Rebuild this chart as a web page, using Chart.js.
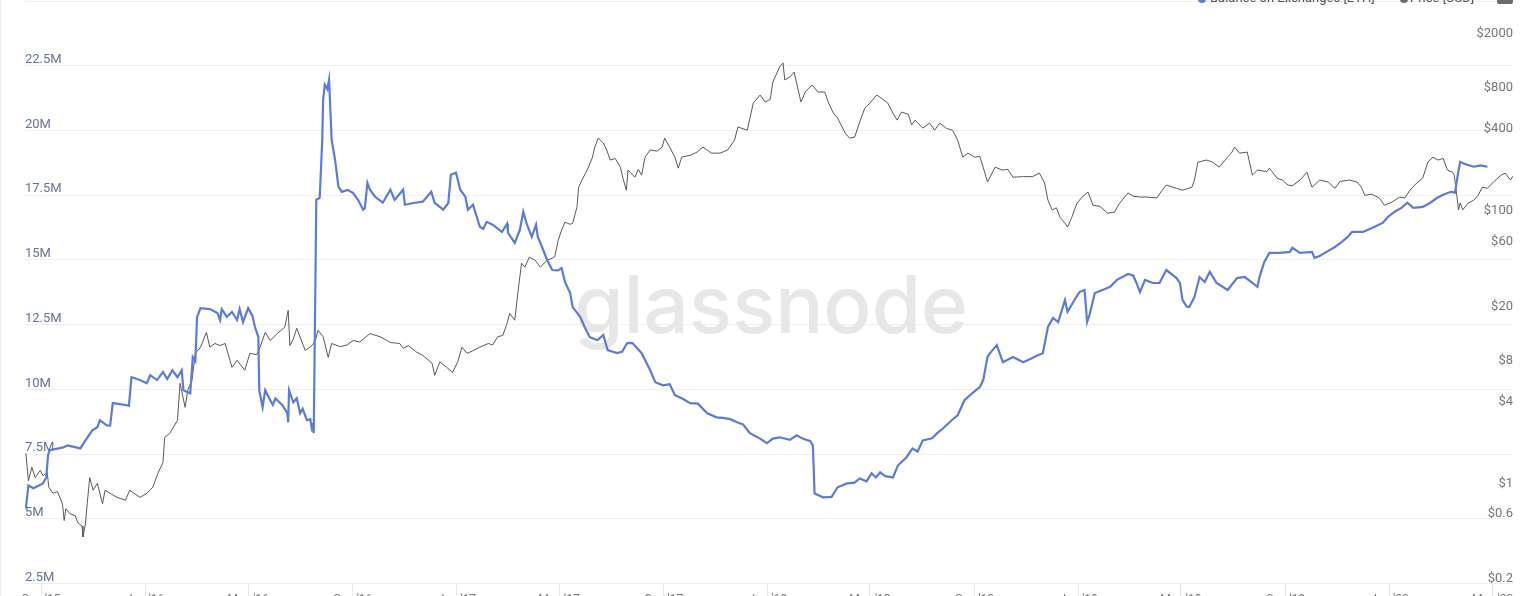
<!DOCTYPE html>
<html>
<head>
<meta charset="utf-8">
<script src="https://cdn.jsdelivr.net/npm/chart.js@4.4.0/dist/chart.umd.min.js"></script>
<style>
html, body { margin: 0; padding: 0; background: #fff; overflow: hidden; }
body { width: 1533px; height: 596px; position: relative; font-family: Roboto, "Open Sans", sans-serif; }
#wrap { position: absolute; left: 0; top: 0; width: 1533px; height: 603px; }
#edge { position: absolute; left: 0; top: 0; width: 1px; height: 596px; background: #ebebeb; }
.leg { position: absolute; top: -9px; font-size: 13px; line-height: 13px; color: #555; white-space: nowrap; }
.dot { position: absolute; top: -5px; width: 8px; height: 8px; border-radius: 50%; }
#menu { position: absolute; left: 1497px; top: -12px; width: 16px; height: 16px; border-radius: 2px; background: #6b6b6b; }
</style>
</head>
<body>
<div id="wrap"><canvas id="myChart" width="1533" height="603"></canvas></div>
<div id="edge"></div>
<div class="dot" style="left:1198px;background:#5b7cdb"></div>
<div class="leg" style="left:1210px">Balance on Exchanges [ETH]</div>
<div class="dot" style="left:1400px;background:#6b6b6b"></div>
<div class="leg" style="left:1410px">Price [USD]</div>
<div id="menu"></div>
<script>
// exchange balance, millions of ETH
let balanceDates = [
	"2015-08-14","2015-08-17","2015-08-23","2015-09-03","2015-09-07","2015-09-09","2015-09-11","2015-09-27","2015-10-02","2015-10-17",
	"2015-10-23","2015-10-31","2015-11-06","2015-11-09","2015-11-17","2015-11-21","2015-11-24","2015-12-11","2015-12-13","2015-12-16",
	"2015-12-26","2016-01-03","2016-01-07","2016-01-15","2016-01-22","2016-01-27","2016-02-02","2016-02-08","2016-02-13","2016-02-15",
	"2016-02-23","2016-02-26","2016-02-29","2016-03-02","2016-03-06","2016-03-17","2016-03-26","2016-03-29","2016-03-31","2016-04-06",
	"2016-04-12","2016-04-18","2016-04-21","2016-04-25","2016-05-01","2016-05-06","2016-05-09","2016-05-13","2016-05-14","2016-05-18",
	"2016-05-21","2016-05-27","2016-05-30","2016-06-02","2016-06-10","2016-06-16","2016-06-17","2016-06-18","2016-06-23","2016-06-27",
	"2016-07-01","2016-07-04","2016-07-09","2016-07-13","2016-07-15","2016-07-16","2016-07-17","2016-07-20","2016-07-24","2016-07-27",
	"2016-07-28","2016-07-30","2016-08-02","2016-08-04","2016-08-07","2016-08-11","2016-08-15","2016-08-19","2016-08-26","2016-09-01",
	"2016-09-07","2016-09-13","2016-09-15","2016-09-18","2016-09-21","2016-09-27","2016-10-06","2016-10-15","2016-10-20","2016-10-30",
	"2016-11-01","2016-11-11","2016-11-22","2016-12-02","2016-12-06","2016-12-16","2016-12-22","2016-12-25","2016-12-31","2017-01-05",
	"2017-01-11","2017-01-14","2017-01-20","2017-01-28","2017-02-01","2017-02-05","2017-02-12","2017-02-23","2017-03-01","2017-03-02",
	"2017-03-10","2017-03-16","2017-03-20","2017-03-24","2017-03-30","2017-04-04","2017-04-06","2017-04-11","2017-04-17","2017-04-23",
	"2017-04-30","2017-05-04","2017-05-08","2017-05-14","2017-05-17","2017-05-26","2017-05-31","2017-06-06","2017-06-15","2017-06-22",
	"2017-06-27","2017-07-08","2017-07-14","2017-07-20","2017-07-26","2017-08-06","2017-08-16","2017-08-22","2017-08-31","2017-09-08",
	"2017-09-14","2017-09-22","2017-10-02","2017-10-11","2017-10-22","2017-11-02","2017-11-09","2017-11-18","2017-11-26","2017-12-03",
	"2017-12-11","2017-12-23","2017-12-31","2018-01-07","2018-01-15","2018-01-27","2018-02-04","2018-02-11","2018-02-20","2018-02-23",
	"2018-02-25","2018-03-07","2018-03-17","2018-03-24","2018-04-04","2018-04-13","2018-04-19","2018-04-27","2018-05-03","2018-05-08",
	"2018-05-13","2018-05-19","2018-05-28","2018-06-03","2018-06-13","2018-06-20","2018-06-26","2018-07-02","2018-07-13","2018-07-19",
	"2018-07-26","2018-08-05","2018-08-12","2018-08-20","2018-08-29","2018-09-07","2018-09-11","2018-09-16","2018-09-19","2018-09-27",
	"2018-10-04","2018-10-16","2018-10-28","2018-11-07","2018-11-14","2018-11-20","2018-11-26","2018-12-02","2018-12-08","2018-12-16",
	"2018-12-19","2018-12-28","2019-01-02","2019-01-08","2019-01-11","2019-01-14","2019-01-20","2019-01-29","2019-02-07","2019-02-15",
	"2019-02-22","2019-02-28","2019-03-06","2019-03-10","2019-03-14","2019-03-20","2019-03-29","2019-04-06","2019-04-14","2019-04-26",
	"2019-04-30","2019-05-03","2019-05-08","2019-05-11","2019-05-17","2019-05-23","2019-05-29","2019-06-04","2019-06-12","2019-06-25",
	"2019-07-06","2019-07-15","2019-07-24","2019-07-30","2019-08-01","2019-08-07","2019-08-13","2019-08-25","2019-09-06","2019-09-09",
	"2019-09-18","2019-10-02","2019-10-05","2019-10-11","2019-10-23","2019-10-29","2019-11-06","2019-11-13","2019-11-18","2019-12-01",
	"2019-12-12","2019-12-24","2019-12-30","2020-01-07","2020-01-15","2020-01-22","2020-01-29","2020-02-09","2020-02-18","2020-02-26",
	"2020-03-04","2020-03-13","2020-03-18","2020-03-21","2020-03-24","2020-03-30","2020-04-09","2020-04-17","2020-04-25"
];
let balanceMillions = [
	5.40,6.29,6.18,6.37,6.60,7.45,7.65,7.76,7.84,7.72,
	8.03,8.42,8.54,8.81,8.61,8.60,9.47,9.39,9.36,10.47,
	10.36,10.24,10.55,10.36,10.67,10.40,10.74,10.47,10.74,9.97,
	9.85,11.25,11.10,12.79,13.14,13.10,12.95,12.68,13.10,12.80,
	12.99,12.68,13.10,12.60,13.14,12.85,12.41,12.02,9.97,9.31,
	9.97,9.58,9.40,9.65,9.40,9.08,8.73,9.97,9.50,9.66,
	9.08,9.25,8.81,8.85,8.42,8.70,8.31,17.32,17.40,19.64,
	21.19,21.77,21.60,21.97,19.64,18.87,17.83,17.63,17.70,17.59,
	17.32,16.94,17.00,17.98,17.71,17.44,17.21,17.71,17.32,17.71,
	17.13,17.20,17.25,17.63,17.20,16.94,17.20,18.29,18.37,17.71,
	17.44,16.94,17.13,16.28,16.20,16.47,16.36,16.08,16.40,16.05,
	15.66,16.16,16.86,16.40,15.89,16.36,15.90,15.50,15.00,14.61,
	14.60,14.69,14.15,13.72,13.18,12.79,12.41,12.02,11.90,12.10,
	11.52,11.40,11.45,11.79,11.80,11.40,10.74,10.28,10.16,10.20,
	9.78,9.66,9.47,9.45,9.08,8.92,8.90,8.85,8.73,8.65,
	8.31,8.10,7.92,8.10,8.15,8.05,8.23,8.10,8.00,7.84,
	5.98,5.83,5.85,6.22,6.37,6.40,6.56,6.45,6.76,6.60,
	6.80,6.65,6.60,7.07,7.38,7.72,7.60,8.03,8.11,8.31,
	8.50,8.81,9.00,9.58,9.85,10.09,10.36,11.25,11.40,11.71,
	11.05,11.25,11.05,11.20,11.32,11.40,12.41,12.76,12.60,13.45,
	13.00,13.50,13.76,13.84,12.60,12.90,13.72,13.84,13.96,14.23,
	14.35,14.46,14.40,14.11,13.76,14.23,14.11,14.11,14.61,14.30,
	14.10,13.45,13.20,13.18,13.57,14.34,14.15,14.54,14.11,13.84,
	14.30,14.34,14.11,13.96,14.30,14.92,15.27,15.27,15.31,15.47,
	15.27,15.31,15.08,15.15,15.39,15.50,15.70,15.89,16.08,16.08,
	16.24,16.43,16.66,16.86,17.01,17.21,17.01,17.05,17.21,17.40,
	17.52,17.63,17.60,18.25,18.79,18.70,18.60,18.65,18.60
];
// ETH price in USD
let priceDates = [
	"2015-08-14","2015-08-17","2015-08-21","2015-08-25","2015-08-31","2015-09-03","2015-09-08","2015-09-10","2015-09-15","2015-09-20",
	"2015-09-26","2015-09-28","2015-09-30","2015-10-05","2015-10-11","2015-10-14","2015-10-19","2015-10-20","2015-10-23","2015-10-25",
	"2015-10-28","2015-11-01","2015-11-06","2015-11-12","2015-11-15","2015-11-21","2015-11-29","2015-12-09","2015-12-14","2015-12-26",
	"2016-01-03","2016-01-10","2016-01-16","2016-01-22","2016-01-24","2016-01-30","2016-02-08","2016-02-11","2016-02-17","2016-02-20",
	"2016-02-25","2016-02-29","2016-03-06","2016-03-13","2016-03-17","2016-03-23","2016-03-29","2016-04-04","2016-04-12","2016-04-18",
	"2016-04-27","2016-05-03","2016-05-11","2016-05-15","2016-05-21","2016-05-27","2016-06-04","2016-06-13","2016-06-17","2016-06-19",
	"2016-06-23","2016-06-27","2016-07-07","2016-07-15","2016-07-19","2016-07-22","2016-07-28","2016-08-03","2016-08-07","2016-08-17",
	"2016-08-25","2016-09-01","2016-09-09","2016-09-21","2016-10-03","2016-10-15","2016-10-26","2016-10-30","2016-11-05","2016-11-15",
	"2016-11-22","2016-12-03","2016-12-06","2016-12-12","2016-12-20","2016-12-27","2017-01-02","2017-01-07","2017-01-13","2017-01-19",
	"2017-01-28","2017-02-07","2017-02-12","2017-02-18","2017-02-24","2017-03-01","2017-03-04","2017-03-10","2017-03-14","2017-03-18",
	"2017-03-22","2017-03-27","2017-04-03","2017-04-09","2017-04-17","2017-04-23","2017-04-26","2017-04-30","2017-05-04","2017-05-08",
	"2017-05-14","2017-05-17","2017-05-22","2017-05-24","2017-05-28","2017-06-03","2017-06-09","2017-06-12","2017-06-16","2017-06-22",
	"2017-06-26","2017-06-30","2017-07-06","2017-07-12","2017-07-15","2017-07-19","2017-07-21","2017-07-29","2017-08-02","2017-08-06",
	"2017-08-10","2017-08-16","2017-08-24","2017-08-30","2017-09-02","2017-09-08","2017-09-14","2017-09-18","2017-09-22","2017-10-02",
	"2017-10-10","2017-10-17","2017-10-27","2017-11-06","2017-11-15","2017-11-23","2017-11-27","2017-12-08","2017-12-15","2017-12-23",
	"2017-12-29","2018-01-04","2018-01-07","2018-01-15","2018-01-19","2018-01-21","2018-01-27","2018-02-01","2018-02-05","2018-02-09",
	"2018-02-14","2018-02-22","2018-03-01","2018-03-09","2018-03-13","2018-03-19","2018-03-24","2018-04-02","2018-04-07","2018-04-13",
	"2018-04-19","2018-04-25","2018-05-01","2018-05-09","2018-05-15","2018-05-22","2018-05-28","2018-06-02","2018-06-07","2018-06-15",
	"2018-06-19","2018-06-23","2018-07-02","2018-07-10","2018-07-16","2018-07-22","2018-07-30","2018-08-06","2018-08-12","2018-08-18",
	"2018-08-24","2018-09-01","2018-09-07","2018-09-13","2018-09-16","2018-09-25","2018-10-03","2018-10-10","2018-10-16","2018-10-28",
	"2018-11-08","2018-11-16","2018-11-22","2018-11-26","2018-12-01","2018-12-06","2018-12-10","2018-12-16","2018-12-19","2018-12-24",
	"2018-12-30","2019-01-05","2019-01-12","2019-01-18","2019-01-26","2019-02-04","2019-02-12","2019-02-18","2019-02-28","2019-03-06",
	"2019-03-14","2019-03-22","2019-04-03","2019-04-09","2019-04-14","2019-04-26","2019-05-03","2019-05-14","2019-05-17","2019-05-21",
	"2019-05-31","2019-06-07","2019-06-15","2019-06-24","2019-06-30","2019-07-03","2019-07-09","2019-07-18","2019-07-24","2019-07-30",
	"2019-08-10","2019-08-13","2019-08-22","2019-08-28","2019-09-04","2019-09-09","2019-09-18","2019-09-26","2019-10-02","2019-10-11",
	"2019-10-21","2019-10-29","2019-11-04","2019-11-15","2019-11-24","2019-11-29","2019-12-03","2019-12-11","2019-12-20","2019-12-26",
	"2020-01-04","2020-01-13","2020-01-19","2020-01-25","2020-02-02","2020-02-09","2020-02-15","2020-02-21","2020-02-27","2020-03-04",
	"2020-03-09","2020-03-15","2020-03-17","2020-03-20","2020-03-22","2020-03-24","2020-03-27","2020-04-02","2020-04-09","2020-04-14",
	"2020-04-19","2020-04-25","2020-05-02","2020-05-11","2020-05-16","2020-05-22","2020-05-26"
];
let priceUsd = [
	1.81,1.14,1.43,1.20,1.36,1.24,1.31,1.02,0.92,0.95,
	0.77,0.58,0.71,0.65,0.63,0.56,0.53,0.44,0.55,0.77,
	1.20,0.97,1.09,0.77,0.97,0.92,0.86,0.82,0.97,0.86,
	0.92,1.02,1.29,1.55,2.37,2.54,3.16,5.91,3.94,5.25,
	6.22,9.82,10.87,14.0,10.9,11.6,11.2,11.6,7.75,8.73,
	7.37,9.82,9.6,10.87,14.0,12.2,13.7,15.3,20.3,11.2,
	12.5,15.0,10.3,11.2,12.2,14.5,13.0,9.18,11.6,11.0,
	11.3,12.2,11.9,13.7,13.0,11.8,11.6,10.7,11.2,10.0,
	9.49,8.3,6.77,8.5,7.75,7.12,8.5,10.9,9.82,10.2,
	10.9,11.6,11.3,13.0,13.3,16.3,19.3,17.2,28.5,45.1,
	42.2,49.9,47.4,42.2,47.4,49.1,50.5,66.5,78.9,90.3,
	87,88.7,116,163,184,218,267,321,374,344,
	306,258,265,229,190,155,218,193,220,200,
	271,306,300,321,374,320,271,225,271,280,
	295,321,290,290,306,361,451,428,676,775,
	689,720,966,1245,1333,1000,1052,1143,887,689,
	815,918,815,815,689,571,525,407,374,380,
	491,622,676,775,730,676,571,507,581,560,
	467,507,443,482,428,482,440,428,361,271,
	290,271,275,207,178,229,218,220,193,195,
	195,207,175,131,111,115,98.2,88.7,83.0,98,
	124,138,150,120,118,105,107,124,148,140,
	138,138,136,155,169,160,155,163,184,249,
	258,250,229,267,295,321,290,295,200,218,
	212,225,190,184,169,167,184,210,163,184,
	178,160,180,184,178,163,142,145,136,120,
	127,138,136,155,175,190,249,271,258,265,
	218,210,200,142,111,125,111,124,131,142,
	163,160,178,200,207,184,200
];
let xTickDates = ["2015-09-01","2016-01-01","2016-05-01","2016-09-01","2017-01-01","2017-05-01","2017-09-01","2018-01-01",
	"2018-05-01","2018-09-01","2019-01-01","2019-05-01","2019-09-01","2020-01-01","2020-05-01"];
let xTickLabels = ["Sep '15","Jan '16","May '16","Sep '16","Jan '17","May '17","Sep '17","Jan '18",
	"May '18","Sep '18","Jan '19","May '19","Sep '19","Jan '20","May '20"];
let priceTicks = [0.2, 0.6, 1, 4, 8, 20, 60, 100, 400, 800, 2000];

//faint brand name behind the lines
const watermark = {
	id: "watermark",
	beforeDatasetsDraw(chart) {
		let ctx = chart.ctx;
		let area = chart.chartArea;
		ctx.save();
		ctx.font = "500 80px Inter";
		ctx.fillStyle = "#e7e7e7";
		ctx.textAlign = "center";
		ctx.textBaseline = "alphabetic";
		ctx.fillText("glassnode", (area.left + area.right) / 2 + 2, 333);
		ctx.restore();
	},
};

function noPad(scale) {
	scale.paddingTop = 0;
	scale.paddingBottom = 0;
	scale.paddingLeft = 0;
	scale.paddingRight = 0;
}

let ctx = document.getElementById("myChart").getContext("2d");
var myChart = new Chart(ctx, {
	type: "line",
	data: {
		datasets: [
			{
				label: "Balance on Exchanges [ETH]",
				data: balanceDates.map((d, i) => ({ x: Date.parse(d), y: balanceMillions[i] })),
				yAxisID: "y",
				borderColor: "#5b7cdb",
				borderWidth: 2.2,
				pointRadius: 0,
				tension: 0,
			},
			{
				label: "Price [USD]",
				data: priceDates.map((d, i) => ({ x: Date.parse(d), y: priceUsd[i] })),
				yAxisID: "y1",
				borderColor: "#5a5a5a",
				borderWidth: 1,
				pointRadius: 0,
				tension: 0,
			},
		],
	},
	options: {
		responsive: false,
		animation: false,
		layout: { padding: { left: 25, right: 20, top: 1, bottom: 0 } },
		plugins: { legend: { display: false }, tooltip: { enabled: false } },
		scales: {
			x: {
				type: "linear",
				min: Date.parse("2015-08-13"),
				max: Date.parse("2020-05-25"),
				afterBuildTicks: (s) => {
					s.ticks = xTickDates.map((d) => ({ value: Date.parse(d) }));
				},
				afterFit: noPad,
				ticks: {
					autoSkip: false,
					maxRotation: 0,
					padding: -4,
					color: "#777",
					font: { size: 12, family: "Roboto" },
					callback: (v, i) => xTickLabels[i],
				},
				grid: { drawOnChartArea: false, tickLength: 13, color: "#e6e6e6" },
				border: { display: false },
			},
			y: {
				position: "left",
				min: 2.5,
				max: 25,
				afterFit: noPad,
				ticks: {
					stepSize: 2.5,
					mirror: true,
					padding: 0,
					labelOffset: -6,
					color: "#66739a",
					font: { size: 13, family: "Roboto" },
					callback: (v) => v + "M",
				},
				grid: { color: "#efefef", drawTicks: false },
				border: { display: false },
			},
			y1: {
				type: "logarithmic",
				position: "right",
				min: 0.2,
				max: 3800,
				afterFit: noPad,
				afterBuildTicks: (s) => {
					s.ticks = priceTicks.map((v) => ({ value: v }));
				},
				ticks: {
					mirror: true,
					padding: 0,
					labelOffset: -5,
					color: "#777",
					font: { size: 13, family: "Roboto" },
					callback: (v) => "$" + v,
				},
				grid: { display: false, drawTicks: false },
				border: { display: false },
			},
		},
	},
	plugins: [watermark],
});
</script>
</body>
</html>
